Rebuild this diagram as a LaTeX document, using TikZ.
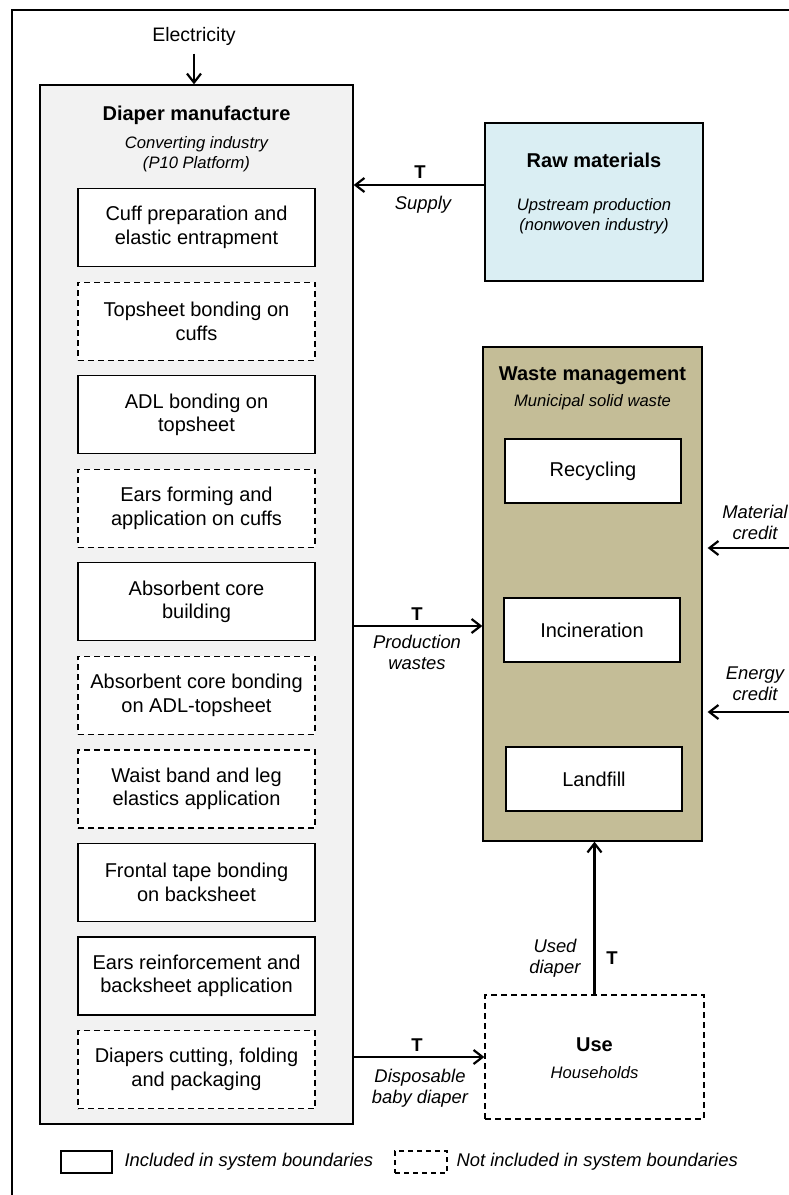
\documentclass[tikz,border=0pt]{standalone}
\usepackage{fontspec}
\setmainfont{Liberation Sans}
\usepackage{xcolor}
\usetikzlibrary{arrows.meta}

\definecolor{mfggrey}{HTML}{F2F2F2}
\definecolor{rawblue}{HTML}{DAEEF3}
\definecolor{wastetan}{HTML}{C4BD97}

\begin{document}
\begin{tikzpicture}[
  x=1pt, y=-1pt,
  area/.style={rectangle, draw, line width=1.3pt},
  stepbox/.style={rectangle, draw, fill=white, line width=1.2pt, minimum width=237pt, minimum height=78pt, align=center, font=\fontsize{20}{23.5}\selectfont},
  stepdash/.style={stepbox, dash pattern=on 6pt off 4pt},
  wastebox/.style={rectangle, draw, fill=white, line width=1.2pt, minimum width=176pt, minimum height=64pt, font=\fontsize{20}{23.5}\selectfont},
  title/.style={font=\bfseries\fontsize{20}{23.5}\selectfont},
  sub/.style={align=center, font=\itshape\fontsize{16.6}{20}\selectfont},
  lbl/.style={align=center, font=\itshape\fontsize{18.4}{21}\selectfont},
  tlbl/.style={font=\bfseries\fontsize{18.5}{21}\selectfont},
  flow/.style={line width=2.2pt, -{Straight Barb[length=9pt,width=14pt]}}
]
\useasboundingbox (0,0) rectangle (789,1195);

% Outer frame
\draw[line width=1.6pt] (789,10) -- (12,10) -- (12,1195);

% Main areas
\node[area, fill=mfggrey, minimum width=313pt, minimum height=1039pt] (mfg) at (196.5,604.5) {};
\node[area, fill=rawblue, minimum width=218pt, minimum height=158pt] (raw) at (594,202) {};
\node[area, fill=wastetan, minimum width=219pt, minimum height=494pt] (wst) at (592.5,594) {};
\node[area, dash pattern=on 6pt off 4pt, minimum width=219pt, minimum height=124pt] (use) at (594.5,1057) {};

% Area titles
\node[title] (mfgt) at (196.5,115) {Diaper manufacture};
\node[sub] (mfgs) at (196.5,154) {Converting industry\\(P10 Platform)};
\node[title] (rawt) at (594,160) {Raw materials};
\node[sub] (raws) at (594,216) {Upstream production\\(nonwoven industry)};
\node[title] (wstt) at (592.5,376) {Waste management};
\node[sub] (wsts) at (592.5,402) {Municipal solid waste};
\node[title] (uset) at (594.5,1045) {Use};
\node[sub] (uses) at (594.5,1073) {Households};

% Process steps
\node[stepbox] (s1) at (196.5,227.5) {Cuff preparation and\\elastic entrapment};
\node[stepdash] (s2) at (196.5,321.1) {Topsheet bonding on\\cuffs};
\node[stepbox] (s3) at (196.5,414.6) {ADL bonding on\\topsheet};
\node[stepdash] (s4) at (196.5,508.2) {Ears forming and\\application on cuffs};
\node[stepbox] (s5) at (196.5,601.7) {Absorbent core\\building};
\node[stepdash] (s6) at (196.5,695.3) {Absorbent core bonding\\on ADL-topsheet};
\node[stepdash] (s7) at (196.5,788.9) {Waist band and leg\\elastics application};
\node[stepbox] (s8) at (196.5,882.4) {Frontal tape bonding\\on backsheet};
\node[stepbox] (s9) at (196.5,976.0) {Ears reinforcement and\\backsheet application};
\node[stepdash] (s10) at (196.5,1069.5) {Diapers cutting, folding\\and packaging};

% Waste treatments
\node[wastebox] (rec) at (593,471) {Recycling};
\node[wastebox] (inc) at (592,630) {Incineration};
\node[wastebox] (lan) at (594,779) {Landfill};

% Electricity input
\node[font=\fontsize{19.5}{23}\selectfont] (elec) at (194,36) {Electricity};
\draw[flow, shorten <=5pt] (elec.south) -- (elec.south |- mfg.north);

% Supply
\coordinate (sup) at ([yshift=17pt]raw.west);
\draw[flow] (sup) -- (sup -| mfg.east);
\node[tlbl] (supt) at (420,172) {T};
\node[lbl] (supl) at (423,205) {Supply};

% Production wastes
\coordinate (pw) at ([yshift=-32pt]wst.west);
\draw[flow] (pw -| mfg.east) -- (pw);
\node[tlbl] (pwt) at (417,614) {T};
\node[lbl] (pwl) at (417,652.5) {Production\\wastes};

% Product to use
\draw[flow] (use.west -| mfg.east) -- (use.west);
\node[tlbl] (prt) at (417,1045) {T};
\node[lbl] (prl) at (420,1088.5) {Disposable\\baby diaper};

% Used diaper
\draw[flow] (use.north) -- (use.north |- wst.south);
\node[lbl] (udl) at (555,958) {Used\\diaper};
\node[tlbl] (udt) at (612,958) {T};

% Credits
\coordinate (mc) at (789,548);
\draw[flow, shorten >=5pt] (mc) -- (mc -| wst.east);
\node[lbl] (mcl) at (755,522) {Material\\credit};
\coordinate (ec) at (789,712);
\draw[flow, shorten >=5pt] (ec) -- (ec -| wst.east);
\node[lbl] (ecl) at (755,684) {Energy\\credit};

% Legend
\node[area, line width=1.2pt, minimum width=51pt, minimum height=22pt] (leg1) at (86.5,1162) {};
\node[lbl, anchor=west] (leg1t) at (121,1162) {Included in system boundaries};
\node[area, line width=1.2pt, dash pattern=on 5pt off 4pt, minimum width=52pt, minimum height=22pt] (leg2) at (421,1162) {};
\node[lbl, anchor=west] (leg2t) at (453,1162) {Not included in system boundaries};

\end{tikzpicture}
\end{document}
